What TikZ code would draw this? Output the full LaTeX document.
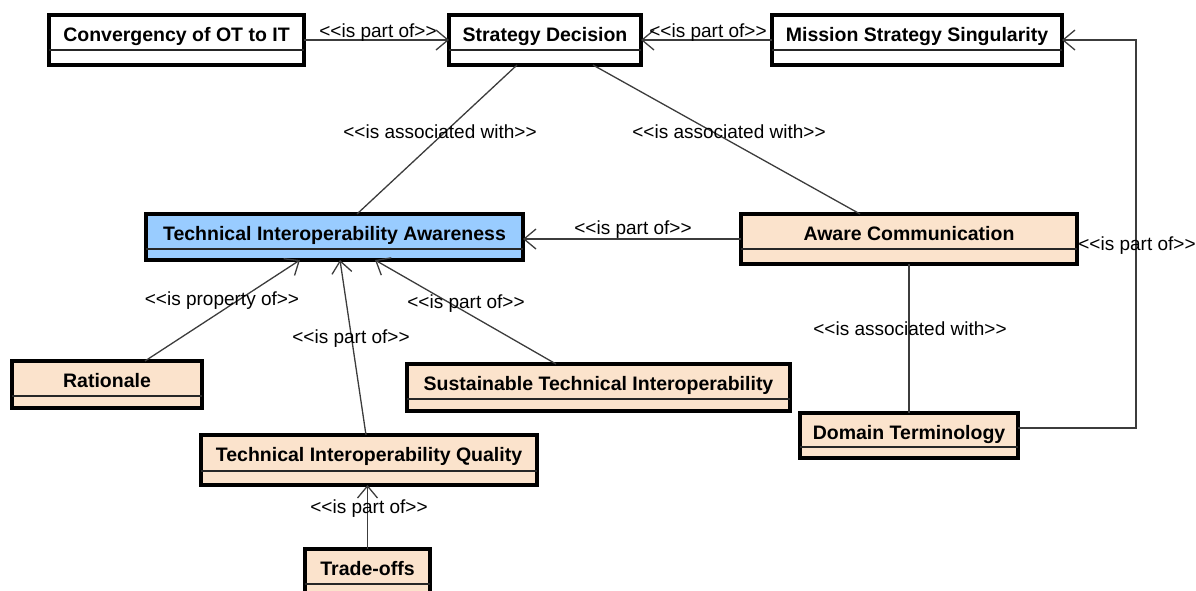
\documentclass[tikz,border=0pt]{standalone}
\usepackage{fontspec}
\setmainfont{Liberation Sans}[Ligatures=TeXOff]
\usetikzlibrary{arrows.meta,calc}

\definecolor{peach}{RGB}{251,227,204}
\definecolor{skyblue}{RGB}{153,204,255}
\definecolor{wire}{RGB}{60,60,60}

\tikzset{
  classbox/.style={draw=black, line width=3.2pt, inner sep=0pt, outer sep=0pt},
  classname/.style={font=\fontsize{19.5}{22}\selectfont\bfseries, inner sep=0pt, anchor=base},
  divider/.style={draw=black!85, line width=1.1pt},
  conn/.style={draw=wire, line width=1.3pt},
  partof/.style={conn, -{Straight Barb[length=12pt,width=20pt,line width=1.3pt]}},
  stereo/.style={font=\fontsize{19}{22}\selectfont, inner sep=0pt, yshift=-2pt},
}

% UML class box: name, left, top, right, bottom, divider y, fill, title
\newcommand\umlclass[8]{%
  \node[classbox, fill=#7, anchor=north west,
        minimum width={(#4-#2)*1pt}, minimum height={(#5-#3)*1pt}] (#1) at (#2,#3) {};
  \draw[divider] (#2,#6) -- (#4,#6);
  \node[classname] (#1-title) at ({(#2+#4)/2},{#3+26}) {#8};
}

\begin{document}
\begin{tikzpicture}[x=1pt,y=-1pt]
  \useasboundingbox (0,0) rectangle (1196,590);

  % classes
  \umlclass{conv}{49}{15}{304}{65}{50}{white}{Convergency of OT to IT}
  \umlclass{sd}{449}{15}{641}{65}{50}{white}{Strategy Decision}
  \umlclass{mss}{772}{15}{1062}{65}{50}{white}{Mission Strategy Singularity}
  \umlclass{tia}{146}{214}{523}{260}{249}{skyblue}{Technical Interoperability Awareness}
  \umlclass{ac}{741}{214}{1077}{264}{249}{peach}{Aware Communication}
  \umlclass{rat}{12}{361}{202}{408}{396}{peach}{Rationale}
  \umlclass{sti}{407}{364}{790}{411}{399}{peach}{Sustainable Technical Interoperability}
  \umlclass{tiq}{201}{435}{537}{485}{471}{peach}{Technical Interoperability Quality}
  \umlclass{dt}{800}{413}{1018}{458}{447}{peach}{Domain Terminology}
  \umlclass{trade}{305}{549}{430}{605}{584}{peach}{Trade-offs}

  % relations
  \draw[partof] (conv.east) -- (sd.west);
  \draw[partof] (mss.west) -- (sd.east);
  \draw[conn] ($(sd.south west)+(68,0)$) -- ($(tia.north west)+(211,0)$);
  \draw[conn] ($(sd.south west)+(144,0)$) -- ($(ac.north west)+(119,0)$);
  \draw[partof] (ac.west) -- (ac.west -| tia.east);
  \draw[partof] ($(dt.north east)+(0,15)$) -| ($(mss.east)+(74,0)$) -- (mss.east);
  \draw[conn] (ac.south) -- (dt.north);
  \draw[partof] ($(rat.north west)+(133,0)$) -- ($(tia.south west)+(154,0)$);
  \draw[partof] ($(tiq.north west)+(165,0)$) -- ($(tia.south west)+(194,0)$);
  \draw[partof] ($(sti.north west)+(149,0)$) -- ($(tia.south west)+(229,0)$);
  \draw[partof] (trade.north) -- (trade.north |- tiq.south);

  % stereotype labels
  \node[stereo] (l-conv) at (378,31) {<<is part of>>};
  \node[stereo] (l-mss) at (708,31) {<<is part of>>};
  \node[stereo] (l-sdtia) at (440,130) {<<is associated with>>};
  \node[stereo] (l-sdac) at (729,130) {<<is associated with>>};
  \node[stereo] (l-actia) at (633,228) {<<is part of>>};
  \node[stereo] (l-dtmss) at (1137,244) {<<is part of>>};
  \node[stereo] (l-acdt) at (910,327) {<<is associated with>>};
  \node[stereo] (l-rat) at (222,299) {<<is property of>>};
  \node[stereo] (l-tiq) at (351,337) {<<is part of>>};
  \node[stereo] (l-sti) at (466,302) {<<is part of>>};
  \node[stereo] (l-trade) at (369,507) {<<is part of>>};
\end{tikzpicture}
\end{document}
